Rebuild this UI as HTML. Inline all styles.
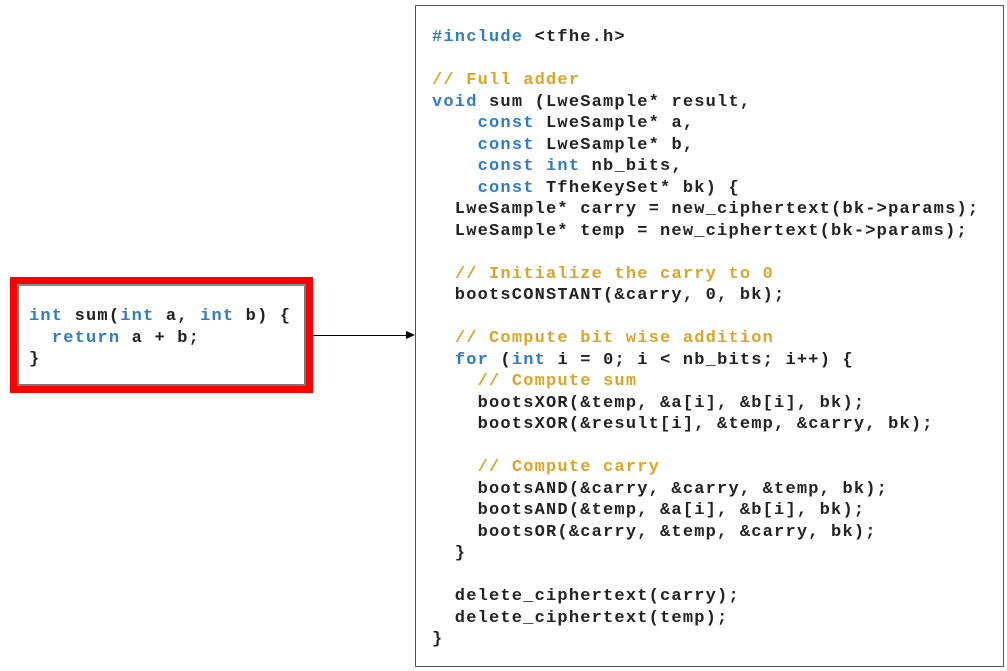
<!DOCTYPE html>
<html><head><meta charset="utf-8"><style>
body{margin:0;width:1007px;height:671px;background:#fff;position:relative;overflow:hidden;font-family:"Liberation Mono",monospace;}
pre{margin:0;position:absolute;font-family:"Liberation Mono",monospace;font-size:17px;font-weight:bold;letter-spacing:1.2px;line-height:21.5px;color:#222;}
.k{color:#2f7ccc}.c{color:#e0a424}
#right{position:absolute;left:415px;top:5px;width:589px;height:662px;border:1px solid #555;box-sizing:border-box;}
#red{position:absolute;left:10px;top:277px;width:303px;height:116px;border:7px solid #f00;box-sizing:border-box;}
#inner{position:absolute;left:0;top:0;right:0;bottom:0;border:2px solid #777;border-top-color:#888;}
#line{position:absolute;left:313px;top:335px;width:94px;height:1px;background:#000;}
#arr{position:absolute;left:406px;top:331px;width:0;height:0;border-top:4px solid transparent;border-bottom:4px solid transparent;border-left:9px solid #000;}
</style></head><body>
<div id="red"><div id="inner"></div></div>
<pre style="left:29px;top:306px;"><span class="k">int</span> sum(<span class="k">int</span> a, <span class="k">int</span> b) {
  <span class="k">return</span> a + b;
}</pre>
<div id="line"></div><div id="arr"></div>
<div id="right"></div>
<pre style="left:432px;top:27px;"><span class="k">#include</span> &lt;tfhe.h&gt;

<span class="c">// Full adder</span>
<span class="k">void</span> sum (LweSample* result,
    <span class="k">const</span> LweSample* a,
    <span class="k">const</span> LweSample* b,
    <span class="k">const</span> <span class="k">int</span> nb_bits,
    <span class="k">const</span> TfheKeySet* bk) {
  LweSample* carry = new_ciphertext(bk-&gt;params);
  LweSample* temp = new_ciphertext(bk-&gt;params);

  <span class="c">// Initialize the carry to 0</span>
  bootsCONSTANT(&amp;carry, 0, bk);

  <span class="c">// Compute bit wise addition</span>
  <span class="k">for</span> (<span class="k">int</span> i = 0; i &lt; nb_bits; i++) {
    <span class="c">// Compute sum</span>
    bootsXOR(&amp;temp, &amp;a[i], &amp;b[i], bk);
    bootsXOR(&amp;result[i], &amp;temp, &amp;carry, bk);

    <span class="c">// Compute carry</span>
    bootsAND(&amp;carry, &amp;carry, &amp;temp, bk);
    bootsAND(&amp;temp, &amp;a[i], &amp;b[i], bk);
    bootsOR(&amp;carry, &amp;temp, &amp;carry, bk);
  }

  delete_ciphertext(carry);
  delete_ciphertext(temp);
}</pre>
</body></html>
